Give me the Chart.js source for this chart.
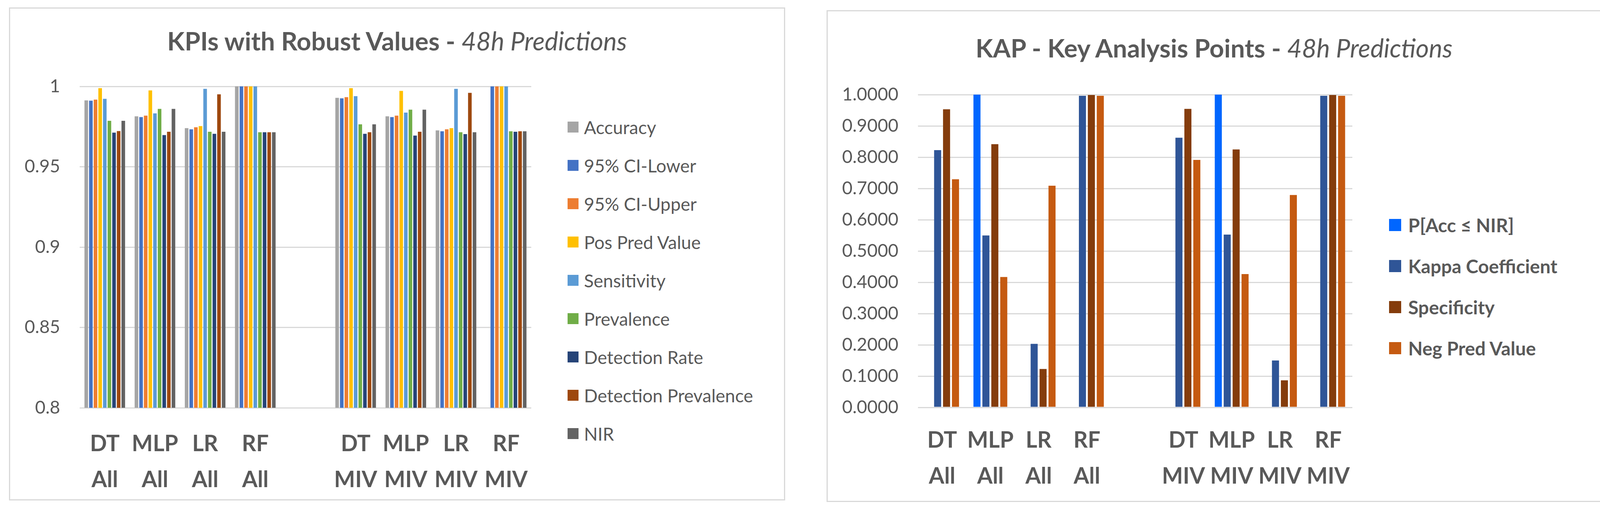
<!DOCTYPE html>
<html>
<head>
<meta charset="utf-8">
<script src="https://cdn.jsdelivr.net/npm/chart.js@4.4.1/dist/chart.umd.min.js"></script>
<style>
    body { margin: 0; width: 4124px; height: 1307px; background: #fff; position: relative; overflow: hidden; font-family: Lato, sans-serif; color: #595959; }
    .panel { position: absolute; box-sizing: border-box; border: 3px solid #D9D9D9; }
    .title { position: absolute; text-align: center; font-size: 65px; line-height: 65px; white-space: nowrap; }
    .title b { font-weight: 700; }
    .title i { font-weight: 400; }
    canvas { position: absolute; }
    .item { position: absolute; height: 60px; display: flex; align-items: center; white-space: nowrap; }
    .sw { display: inline-block; }
</style>
</head>
<body>

<div class="panel" style="left:23px; top:19px; width:1987px; height:1261px;"></div>
<div class="title" style="left:23px; width:1987px; top:72px;"><b>KPIs with Robust Values - </b><i>48h Predictions</i></div>
<canvas id="kpiChart" width="1420" height="1261" style="left:23px; top:19px;"></canvas>
<div id="kpiLegend"></div>

<div class="panel" style="left:2116px; top:26px; width:1984px; height:1258px;"></div>
<div class="title" style="left:2116px; width:1984px; top:90px;"><b>KAP - Key Analysis Points - </b><i>48h Predictions</i></div>
<canvas id="kapChart" width="1424" height="1258" style="left:2116px; top:26px;"></canvas>
<div id="kapLegend"></div>

<script>
// categories (empty slot between the two model groups)
const categories = [["DT", "All"], ["MLP", "All"], ["LR", "All"], ["RF", "All"], "",
                    ["DT", "MIV"], ["MLP", "MIV"], ["LR", "MIV"], ["RF", "MIV"]];

// left chart: KPIs
const kpiNames = ["Accuracy", "95% CI-Lower", "95% CI-Upper", "Pos Pred Value", "Sensitivity",
                  "Prevalence", "Detection Rate", "Detection Prevalence", "NIR"];
const kpiColors = ["#A5A5A5", "#4472C4", "#ED7D31", "#FFC000", "#5B9BD5",
                   "#70AD47", "#264478", "#9E480E", "#636363"];
const accuracy    = [0.9913, 0.9814, 0.9740, 1.0000, null, 0.9929, 0.9814, 0.9726, null];
const ciLower     = [0.9911, 0.9809, 0.9733, 1.0000, null, 0.9926, 0.9809, 0.9721, 1.0000];
const ciUpper     = [0.9918, 0.9818, 0.9746, 1.0000, null, 0.9933, 0.9818, 0.9733, 1.0000];
const posPred     = [0.9989, 0.9975, 0.9753, 1.0000, null, 0.9989, 0.9972, 0.9740, 1.0000];
const sensitivity = [0.9923, 0.9832, 0.9985, 1.0000, null, 0.9939, 0.9837, 0.9985, 1.0000];
const prevalence  = [0.9786, 0.9860, 0.9718, 0.9715, null, 0.9764, 0.9855, 0.9715, 0.9721];
const detRate     = [0.9712, 0.9697, 0.9705, 0.9715, null, 0.9705, 0.9694, 0.9703, 0.9718];
const detPrev     = [0.9722, 0.9718, 0.9951, 0.9715, null, 0.9715, 0.9718, 0.9960, 0.9721];
const nir         = [0.9786, 0.9860, 0.9718, 0.9715, null, 0.9764, 0.9855, 0.9715, 0.9721];
const kpiTicks = ["0.8", "0.85", "0.9", "0.95", "1"];

// right chart: KAP
const kapNames = ["P[Acc \u2264 NIR]", "Kappa Coefficient", "Specificity", "Neg Pred Value"];
const kapColors = ["#0066FF", "#2F5597", "#843C0C", "#C55A11"];
const pAccNir     = [0, 1.0000, 0, 0, null, 0, 1.0000, 0, 0];
const kappa       = [0.8224, 0.5497, 0.2031, 0.9964, null, 0.8622, 0.5526, 0.1499, 0.9964];
const specificity = [0.9531, 0.8416, 0.1229, 0.9986, null, 0.9545, 0.8246, 0.0866, 0.9986];
const negPred     = [0.7294, 0.4169, 0.7088, 0.9964, null, 0.7912, 0.4261, 0.6790, 0.9964];
const kapTicks = ["0.0000", "0.1000", "0.2000", "0.3000", "0.4000", "0.5000",
                  "0.6000", "0.7000", "0.8000", "0.9000", "1.0000"];

const textColor = "#595959";
const gridColor = "#D9D9D9";

function makeLegend(id, names, colors, opts) {
    const box = document.getElementById(id);
    names.forEach((name, i) => {
        const item = document.createElement("div");
        item.className = "item";
        item.style.left = opts.left + "px";
        item.style.top = (opts.firstY + i * opts.step - 30) + "px";
        item.style.fontSize = opts.font + "px";
        if (opts.bold) item.style.fontWeight = "700";
        const sw = document.createElement("span");
        sw.className = "sw";
        sw.style.background = colors[i];
        sw.style.width = opts.box + "px";
        sw.style.height = opts.box + "px";
        sw.style.marginRight = opts.gap + "px";
        item.appendChild(sw);
        item.appendChild(document.createTextNode(name));
        box.appendChild(item);
    });
}

function makeChart(id, series, names, colors, yOpts, layout) {
    return new Chart(document.getElementById(id), {
        type: "bar",
        data: {
            labels: categories,
            datasets: series.map((data, i) => ({
                label: names[i],
                data: data,
                backgroundColor: colors[i],
                borderWidth: 0,
                categoryPercentage: layout.catPct,
                barPercentage: layout.barPct
            }))
        },
        options: {
            responsive: false,
            devicePixelRatio: 1,
            animation: false,
            layout: { padding: layout.padding },
            plugins: { legend: { display: false }, title: { display: false }, tooltip: { enabled: false } },
            scales: {
                x: {
                    grid: { display: false },
                    border: { display: false },
                    ticks: {
                        color: textColor,
                        autoSkip: false,
                        maxRotation: 0,
                        padding: layout.xPad,
                        font: { family: "Lato", size: layout.xFont, weight: "bold", lineHeight: layout.xLine }
                    },
                    afterFit: s => { s.height = layout.xHeight; }
                },
                y: Object.assign({
                    grid: { color: gridColor, lineWidth: 3, drawTicks: false },
                    border: { display: false },
                    afterFit: s => { s.width = layout.yWidth; }
                }, yOpts)
            }
        }
    });
}

function init() {
    makeChart("kpiChart",
        [accuracy, ciLower, ciUpper, posPred, sensitivity, prevalence, detRate, detPrev, nir],
        kpiNames, kpiColors,
        {
            min: 0.8, max: 1,
            ticks: {
                stepSize: 0.05, color: textColor, padding: 50,
                font: { family: "Lato", size: 46 },
                callback: (v, i) => kpiTicks[i]
            }
        },
        { catPct: 0.83, barPct: 0.78, padding: { left: 0, top: 202, right: 83, bottom: 17 },
          yWidth: 181, xHeight: 220, xPad: 38, xFont: 57, xLine: 1.62 });

    makeChart("kapChart",
        [pAccNir, kappa, specificity, negPred],
        kapNames, kapColors,
        {
            min: 0, max: 1,
            ticks: {
                stepSize: 0.1, color: textColor, padding: 50,
                font: { family: "Lato", size: 46 },
                callback: (v, i) => kapTicks[i]
            }
        },
        { catPct: 0.74, barPct: 0.79, padding: { left: 0, top: 216, right: 78, bottom: 22 },
          yWidth: 234, xHeight: 220, xPad: 30, xFont: 57, xLine: 1.62 });

    makeLegend("kpiLegend", kpiNames, kpiColors,
        { left: 1453, firstY: 325, step: 98, font: 46, box: 28, gap: 14, bold: false });
    makeLegend("kapLegend", kapNames, kapColors,
        { left: 3556, firstY: 575, step: 105, font: 48, box: 31, gap: 18, bold: true });
}

Promise.all([
    document.fonts.load("46px Lato"),
    document.fonts.load("bold 57px Lato")
]).catch(() => {}).then(init);
</script>
</body>
</html>
